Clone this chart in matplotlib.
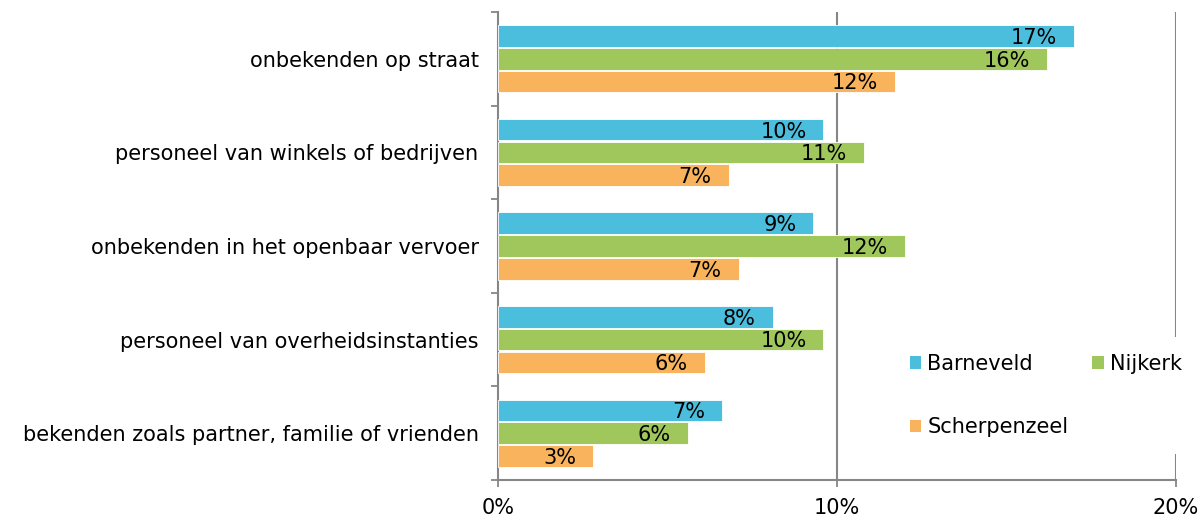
import matplotlib
matplotlib.use("Agg")
import matplotlib.pyplot as plt
from matplotlib.patches import Patch
import numpy as np

categories = [
    "onbekenden op straat",
    "personeel van winkels of bedrijven",
    "onbekenden in het openbaar vervoer",
    "personeel van overheidsinstanties",
    "bekenden zoals partner, familie of vrienden",
]
series = ["Barneveld", "Nijkerk", "Scherpenzeel"]
barneveld = [17.0, 9.6, 9.3, 8.1, 6.6]
nijkerk = [16.2, 10.8, 12.0, 9.6, 5.6]
scherpenzeel = [11.7, 6.8, 7.1, 6.1, 2.8]
labels_b = ["17%", "10%", "9%", "8%", "7%"]
labels_n = ["16%", "11%", "12%", "10%", "6%"]
labels_s = ["12%", "7%", "7%", "6%", "3%"]
xticks = [0, 10, 20]
xticklabels = ["0%", "10%", "20%"]

colors = ["#4BBEDE", "#A0C75C", "#F8B35C"]
axis_gray = "#868686"

fig = plt.figure(figsize=(12.01, 5.17), dpi=100)
ax = fig.add_axes([498 / 1201, 1 - 480 / 517, (1176 - 498) / 1201, (480 - 12) / 517])

y = np.arange(len(categories))
stride = 0.243
height = 0.23
vals = [barneveld, nijkerk, scherpenzeel]
labs = [labels_b, labels_n, labels_s]
fs = 15
for k, (v, lab, c) in enumerate(zip(vals, labs, colors)):
    pos = y + (k - 1) * stride
    ax.barh(pos, v, height=height, color=c, edgecolor="white", linewidth=0.6, zorder=3)
    for yy, vv, tt in zip(pos, v, lab):
        ax.text(vv - 0.5, yy + 0.02, tt, ha="right", va="center",
                fontsize=fs, color="black", zorder=4)

ax.set_xlim(0, 20)
ax.set_ylim(4.5, -0.5)
for gx in [10, 20]:
    ax.axvline(gx, color=axis_gray, linewidth=1.5, zorder=1)

ax.set_xticks(xticks)
ax.set_xticklabels(xticklabels, fontsize=fs)
ax.set_yticks(y)
ax.set_yticklabels(categories, fontsize=fs)
ax.tick_params(axis="y", length=0, pad=14)
ax.set_yticks(np.arange(-0.5, 5.0, 1.0), minor=True)
ax.tick_params(axis="y", which="minor", length=5, color=axis_gray, width=1.3, direction="out")
ax.tick_params(axis="x", length=5, color=axis_gray, width=1.3, direction="out", pad=8)

for s in ["top", "right"]:
    ax.spines[s].set_visible(False)
for s in ["left", "bottom"]:
    ax.spines[s].set_color(axis_gray)
    ax.spines[s].set_linewidth(1.5)

handles = [Patch(facecolor=c, edgecolor="none") for c in colors]
# order for 2 columns: Barneveld, Scherpenzeel (col 1), Nijkerk (col 2)
order = [0, 2, 1]
leg = fig.legend([handles[i] for i in order], [series[i] for i in order],
                 ncol=2, loc="upper left", bbox_to_anchor=(893 / 1201, 1 - 337 / 517),
                 frameon=True, fontsize=fs, handlelength=0.55, handleheight=0.55,
                 handletextpad=0.3, columnspacing=1.15, labelspacing=2.1,
                 borderpad=0.8, borderaxespad=0)
leg.get_frame().set_facecolor("white")
leg.get_frame().set_edgecolor("none")
leg.get_frame().set_alpha(1)
leg.set_zorder(10)

fig.savefig("out.png", dpi=100)
